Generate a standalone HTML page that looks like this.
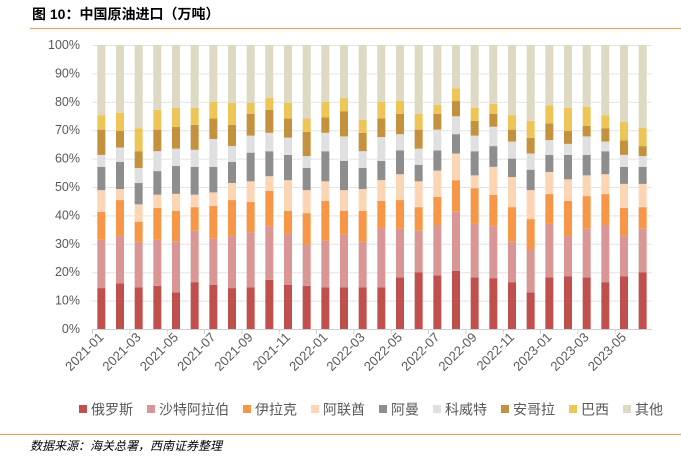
<!DOCTYPE html>
<html><head><meta charset="utf-8"><style>
body{margin:0;background:#fff;}
svg{display:block;font-family:"Liberation Sans","Noto Sans CJK SC",sans-serif;}
</style></head><body>
<svg id="c" width="681" height="456">
<text x="32" y="19" font-size="14" font-weight="bold" fill="#000">图 10：中国原油进口（万吨）</text>
<line x1="30" y1="28.5" x2="681" y2="28.5" stroke="#d9a866" stroke-width="1.2"/>
<line x1="0" y1="434.5" x2="681" y2="434.5" stroke="#d9a866" stroke-width="1.2"/>
<text x="30" y="450" font-size="12" font-style="italic" fill="#000">数据来源：海关总署，西南证券整理</text>
<g id="grid"></g><g id="bars"></g><g id="axes"></g><g id="legend"></g>
</svg>
<script>
const categories=["2021-01","2021-02","2021-03","2021-04","2021-05","2021-06","2021-07","2021-08","2021-09","2021-10","2021-11","2021-12","2022-01","2022-02","2022-03","2022-04","2022-05","2022-06","2022-07","2022-08","2022-09","2022-10","2022-11","2022-12","2023-01","2023-02","2023-03","2023-04","2023-05","2023-06"];
const seriesNames=["俄罗斯","沙特阿拉伯","伊拉克","阿联酋","阿曼","科威特","安哥拉","巴西","其他"];
const russia=[14.4,16.1,14.7,15.2,12.9,16.5,15.6,14.4,14.7,17.3,15.6,15.2,14.7,14.7,14.7,14.7,18.2,20.0,18.9,20.5,18.2,17.9,16.5,12.9,18.2,18.6,18.2,16.5,18.6,20.0];
const saudi=[17.0,16.7,16.0,16.2,17.8,18.1,16.2,18.4,19.4,18.9,17.9,14.6,16.4,18.5,16.0,20.9,17.1,14.6,17.7,20.8,18.9,18.3,14.2,15.1,18.9,14.2,17.1,20.1,14.2,15.3];
const iraq=[9.8,12.6,7.1,11.2,10.9,8.3,11.5,12.6,10.6,12.4,8.1,11.0,14.0,8.4,10.9,9.5,10.1,8.3,9.9,11.1,12.5,11.0,12.2,10.7,10.4,12.3,11.5,10.9,9.8,7.6];
const uae=[7.7,3.9,6.1,4.7,6.0,4.4,4.8,6.0,7.3,5.2,10.8,8.1,6.9,7.3,7.7,7.3,9.1,9.1,9.3,9.4,4.5,9.9,10.6,10.2,7.8,7.6,7.3,7.0,8.5,8.2];
const oman=[8.2,9.5,7.5,8.3,9.8,9.8,9.0,7.4,10.1,8.8,8.9,7.8,10.6,10.3,7.4,6.8,8.4,5.8,7.1,6.8,8.5,7.3,6.5,7.2,6.0,8.6,7.2,8.1,6.0,6.0];
const kuwait=[4.2,5.1,5.3,7.0,6.1,6.0,9.8,5.6,6.0,6.5,6.1,4.2,6.5,8.6,5.9,8.4,5.7,5.7,7.3,6.3,5.5,6.8,6.0,5.7,5.2,3.9,6.5,3.4,4.2,3.8];
const angola=[8.9,5.9,5.9,7.6,7.7,8.8,7.2,7.5,7.7,8.1,6.7,8.5,5.4,8.9,6.5,6.5,7.2,6.7,5.6,5.5,5.2,4.6,4.2,5.5,5.9,4.6,3.7,4.7,5.1,3.5];
const brazil=[5.1,6.3,8.1,7.0,6.7,6.0,5.9,7.7,3.8,4.2,5.5,4.7,5.5,4.7,4.5,5.9,4.6,5.6,3.1,4.4,4.6,3.5,5.1,6.0,6.3,8.1,6.7,4.6,6.5,6.4];
const other=[24.7,23.9,29.3,22.8,22.1,22.1,20.0,20.4,20.4,18.6,20.4,25.9,20.0,18.6,26.4,20.0,19.6,24.2,21.1,15.2,22.1,20.7,24.7,26.7,21.3,22.1,21.8,24.7,27.1,29.2];
const yTicks=[0,10,20,30,40,50,60,70,80,90,100];
const colors=["#c0504d","#d99694","#f79646","#fcd5b5","#8e8e8e","#e0e0e0","#c4923f","#eec658","#ddd9c3"];
const series=[russia,saudi,iraq,uae,oman,kuwait,angola,brazil,other];
const NS="http://www.w3.org/2000/svg";
const X0=92,X1=652,Y0=329,Y1=45;
const band=(X1-X0)/categories.length;
const xc=i=>X0+band*(i+0.5);
const y=v=>Y0-(Y0-Y1)*v/100;
function mk(t,a,p){const e=document.createElementNS(NS,t);for(const k in a)e.setAttribute(k,a[k]);p.appendChild(e);return e;}
const G=document.getElementById('grid'),B=document.getElementById('bars'),A=document.getElementById('axes'),L=document.getElementById('legend');
yTicks.forEach(t=>{
 if(t>0){const l=mk('line',{x1:X0,x2:X1,y1:y(t)+0.5,y2:y(t)+0.5,stroke:'#e3e3e3','stroke-width':1},G);
 
 }
 const tx=mk('text',{x:80,y:y(t)+4,'font-size':12.5,fill:'#595959','text-anchor':'end'},A);
 tx.textContent=t+'%';
 
 
});
categories.forEach((c,i)=>{
 let cum=0;
 let tot=0;series.forEach(ss=>tot+=ss[i]);
 series.forEach((s,k)=>{
  const p=s[i]/tot*100;
  const r=mk('rect',{x:xc(i)-4,y:y(cum+p),width:8,height:y(cum)-y(cum+p),fill:colors[k]},B);
  
  
  cum+=p;
 });
 if(i%2===0){
  const tk=mk('line',{x1:X0+band*i+0.5,x2:X0+band*i+0.5,y1:Y0,y2:Y0+5,stroke:'#d0d0d0'},A);
  
  
  const tx=mk('text',{x:xc(i)+3,y:Y0+9,'font-size':13,fill:'#595959','text-anchor':'end',transform:`rotate(-45 ${xc(i)+3} ${Y0+9})`},A);
  tx.textContent=c;
  
  
 }
});
const ax=mk('line',{x1:X0,x2:X1,y1:Y0+0.5,y2:Y0+0.5,stroke:'#d0d0d0'},A);


let lx=79;
seriesNames.forEach((n,k)=>{
 const g=mk('g',{},L);
 
 
 mk('rect',{x:lx,y:405,width:8,height:8,fill:colors[k]},g);
 const t=mk('text',{x:lx+12,y:414.5,'font-size':14,fill:'#595959'},g);
 t.textContent=n;
 lx+=12+n.length*14+14;
});
</script>
</body></html>
